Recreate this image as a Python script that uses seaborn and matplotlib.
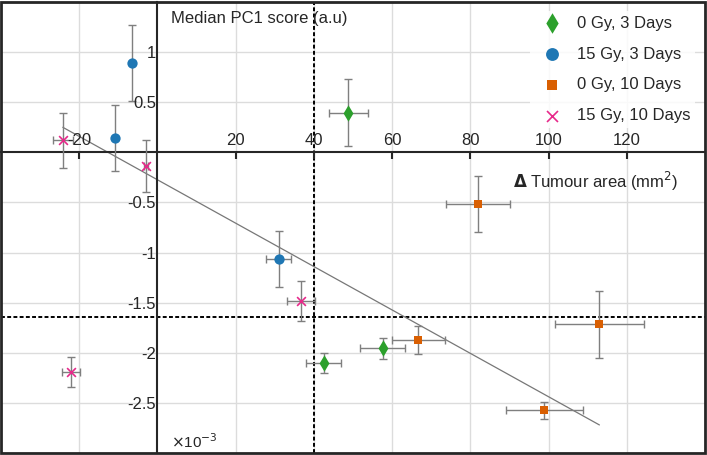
import numpy as np
import pandas as pd
import matplotlib
matplotlib.use("Agg")
import matplotlib.pyplot as plt
import seaborn as sns
from matplotlib.patches import Rectangle

# ------------------------------------------
# DATA (y values in units of 1e-3)
# ------------------------------------------
groups = ["0 Gy, 3 Days", "15 Gy, 3 Days", "0 Gy, 10 Days", "15 Gy, 10 Days"]

g0d3_x = [48.8, 42.5, 57.6]
g0d3_y = [0.395, -2.106, -1.953]
g0d3_xerr = [5.0, 4.4, 5.7]
g0d3_yerr = [0.335, 0.10, 0.105]

g15d3_x = [-6.4, -10.8, 31.0]
g15d3_y = [0.893, 0.142, -1.065]
g15d3_xerr = [0.0, 0.0, 3.2]
g15d3_yerr = [0.38, 0.33, 0.28]

g0d10_x = [82.0, 66.7, 113.0, 98.9]
g0d10_y = [-0.517, -1.874, -1.715, -2.574]
g0d10_xerr = [8.2, 6.7, 11.3, 9.8]
g0d10_yerr = [0.28, 0.14, 0.335, 0.085]

g15d10_x = [-24.2, -3.0, 36.8, -22.1]
g15d10_y = [0.119, -0.136, -1.483, -2.192]
g15d10_xerr = [2.5, 0.5, 3.6, 2.2]
g15d10_yerr = [0.275, 0.26, 0.20, 0.15]

# trend line end points and threshold lines
trend_x = [-24.2, 113.0]
trend_y = [0.25, -2.72]
thresh_x = 40.0
thresh_y = -1.64

x_ticks = [-20, 20, 40, 60, 80, 100, 120]
y_ticks = [1, 0.5, -0.5, -1, -1.5, -2, -2.5]
y_tick_labels = ["1", "0.5", "-0.5", "-1", "-1.5", "-2", "-2.5"]

colors = ["#2ca02c", "#1f77b4", "#d95f02", "#e7298a"]
markers = ["d", "o", "s", "x"]
sizes = [70, 55, 40, 40]

df = pd.concat([
    pd.DataFrame({"x": g0d3_x, "y": g0d3_y, "xerr": g0d3_xerr, "yerr": g0d3_yerr, "group": groups[0]}),
    pd.DataFrame({"x": g15d3_x, "y": g15d3_y, "xerr": g15d3_xerr, "yerr": g15d3_yerr, "group": groups[1]}),
    pd.DataFrame({"x": g0d10_x, "y": g0d10_y, "xerr": g0d10_xerr, "yerr": g0d10_yerr, "group": groups[2]}),
    pd.DataFrame({"x": g15d10_x, "y": g15d10_y, "xerr": g15d10_xerr, "yerr": g15d10_yerr, "group": groups[3]}),
], ignore_index=True)

# ------------------------------------------
# STYLE
# ------------------------------------------
sns.set_style("white")
plt.rcParams["font.family"] = ["Liberation Sans", "DejaVu Sans"]
plt.rcParams["axes.unicode_minus"] = False

fig = plt.figure(figsize=(7.07, 4.55), dpi=100)
ax = fig.add_axes([1 / 707, 2 / 455, 704 / 707, 451 / 455])

ax.set_xlim(-40, 140)
ax.set_ylim(-3, 1.5)

# grid
for xv in x_ticks:
    ax.axvline(xv, color="#dcdcdc", lw=1, zorder=0)
for yv in y_ticks:
    ax.axhline(yv, color="#dcdcdc", lw=1, zorder=0)

# threshold lines
ax.axvline(thresh_x, color="black", lw=1.4, ls=(0, (2, 1.2)), zorder=1)
ax.axhline(thresh_y, color="black", lw=1.4, ls=(0, (2, 1.2)), zorder=1)

# trend line
ax.plot(trend_x, trend_y, color="#777777", lw=0.9, zorder=2)

# error bars
ax.errorbar(df["x"], df["y"], xerr=df["xerr"], yerr=df["yerr"], fmt="none",
            ecolor="#7f7f7f", elinewidth=1, capsize=3, capthick=1, zorder=3)

# points, one group at a time (filled and line markers can't mix)
for grp, col, mk, sz in zip(groups, colors, markers, sizes):
    sub = df[df["group"] == grp]
    sns.scatterplot(data=sub, x="x", y="y", color=col, marker=mk, s=sz,
                    linewidth=1.2 if mk == "x" else 0, label=grp, ax=ax, zorder=4)

# axes through origin
for side in ["top", "left"]:
    ax.spines[side].set_position(("data", 0))
    ax.spines[side].set_linewidth(1.5)
    ax.spines[side].set_color("#262626")
    ax.spines[side].set_zorder(2)
for side in ["bottom", "right"]:
    ax.spines[side].set_visible(False)
ax.add_patch(Rectangle((0, 0), 1, 1, transform=ax.transAxes, fill=False,
                       lw=2, edgecolor="#262626", clip_on=False, zorder=10))

ax.xaxis.tick_top()
ax.xaxis.set_zorder(5)
ax.yaxis.set_zorder(5)
ax.set_xticks(x_ticks)
ax.set_xticklabels([str(v) for v in x_ticks])
ax.set_yticks(y_ticks)
ax.set_yticklabels(y_tick_labels)
ax.tick_params(axis="x", direction="in", length=5, width=1.5, pad=3,
               labelsize=12, colors="#262626")
ax.tick_params(axis="y", direction="in", length=5, width=1.5, pad=1,
               labelsize=12, colors="#262626")
ax.set_xlabel("")
ax.set_ylabel("")

ax.text(170 / 704, 1 - 16 / 451, "Median PC1 score (a.u)", transform=ax.transAxes,
        fontsize=12, color="#262626", va="center", ha="left")
ax.text(677 / 704, 1 - 179 / 451, r"$\mathbf{\Delta}$ Tumour area (mm$^2$)", transform=ax.transAxes,
        fontsize=12, color="#262626", va="center", ha="right")
ax.text(170 / 704, 1 - 440 / 451, r"$\times$10$^{-3}$", transform=ax.transAxes,
        fontsize=11, color="#262626", va="center", ha="left")

handles, labels = ax.get_legend_handles_labels()
leg = ax.legend(handles, labels, loc="upper right", fontsize=12, frameon=True,
                framealpha=0.85, edgecolor="none", facecolor="white",
                labelspacing=0.95, handletextpad=0.5, borderpad=0.3,
                markerscale=1.25, bbox_to_anchor=(0.998, 0.999))
leg.set_zorder(9)

fig.savefig("out.png", dpi=100)
